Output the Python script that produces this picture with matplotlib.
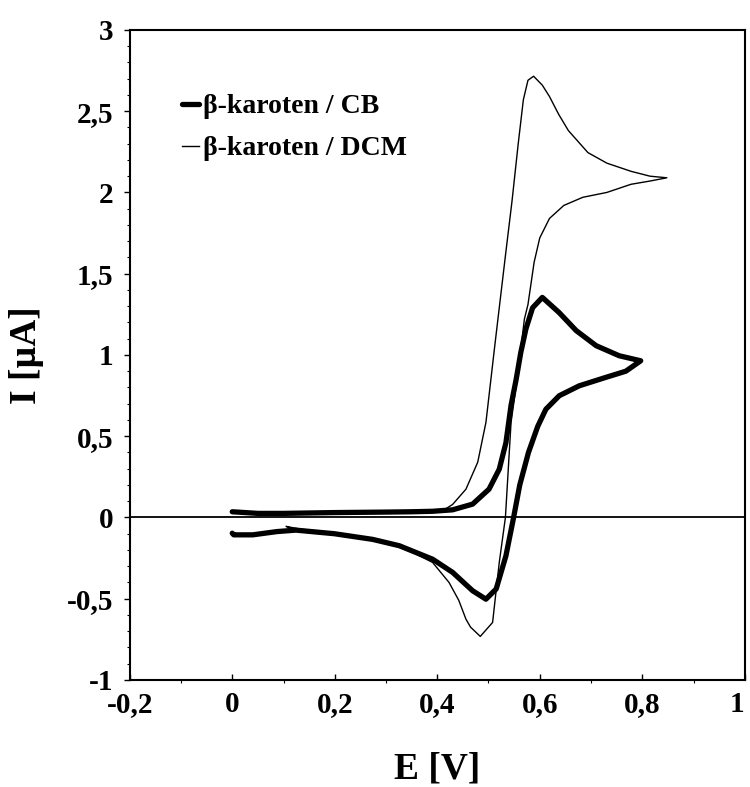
import matplotlib
matplotlib.use("Agg")
import matplotlib.pyplot as plt
from matplotlib.ticker import MultipleLocator, FuncFormatter

# beta-carotene in chlorobenzene (thick line), forward then reverse sweep
cb_E = [0.0, 0.05, 0.1, 0.2, 0.3, 0.35, 0.391, 0.43, 0.469, 0.501, 0.521, 0.534, 0.544,
        0.554, 0.563, 0.573, 0.586, 0.605, 0.638, 0.671, 0.710, 0.755, 0.797,
        0.768, 0.729, 0.677, 0.638, 0.612, 0.596, 0.578, 0.561, 0.549, 0.534, 0.515,
        0.495, 0.469, 0.43, 0.391, 0.326, 0.274, 0.199, 0.124, 0.087, 0.04, 0.003, 0.0]
cb_I = [0.035, 0.025, 0.025, 0.03, 0.033, 0.035, 0.038, 0.047, 0.082, 0.174, 0.297, 0.46, 0.69,
        0.85, 1.015, 1.16, 1.29, 1.354, 1.26, 1.15, 1.057, 0.995, 0.964,
        0.90, 0.862, 0.81, 0.749, 0.666, 0.56, 0.40, 0.2, 0.0, -0.236, -0.44,
        -0.503, -0.451, -0.338, -0.257, -0.174, -0.135, -0.10, -0.078, -0.087, -0.107, -0.107, -0.097]

# beta-carotene in dichloromethane (thin line)
dcm_E = [0.1, 0.2, 0.3, 0.4, 0.415, 0.43, 0.456, 0.479, 0.495, 0.512, 0.533, 0.546, 0.558,
         0.568, 0.577, 0.588, 0.605, 0.619, 0.637, 0.656, 0.694, 0.731, 0.778, 0.815, 0.848,
         0.815, 0.778, 0.731, 0.684, 0.647, 0.619, 0.600, 0.589, 0.577, 0.570, 0.558, 0.544,
         0.533, 0.521, 0.508, 0.484, 0.465, 0.456, 0.442, 0.423, 0.391, 0.352, 0.30, 0.2,
         0.13, 0.105, 0.11]
dcm_I = [0.03, 0.035, 0.04, 0.045, 0.05, 0.08, 0.174, 0.34, 0.585, 1.05, 1.61, 1.95, 2.3,
         2.57, 2.69, 2.715, 2.66, 2.59, 2.48, 2.38, 2.245, 2.18, 2.13, 2.10, 2.09,
         2.07, 2.05, 2.0, 1.97, 1.92, 1.84, 1.72, 1.57, 1.31, 1.22, 0.9, 0.585,
         0.0, -0.277, -0.646, -0.732, -0.675, -0.626, -0.51, -0.40, -0.277, -0.215, -0.15, -0.10,
         -0.07, -0.055, -0.06]

x_ticks = [-0.2, 0, 0.2, 0.4, 0.6, 0.8, 1.0]
y_ticks = [-1, -0.5, 0, 0.5, 1, 1.5, 2, 2.5, 3]

plt.rcParams['font.family'] = ['Liberation Serif', 'DejaVu Serif']
plt.rcParams['font.weight'] = 'bold'

fig = plt.figure(figsize=(7.5, 7.87), dpi=100)
ax = fig.add_axes([0.173, 0.136, 0.82, 0.826])

ax.plot(cb_E, cb_I, color='black', lw=3.8, solid_capstyle='round', solid_joinstyle='round',
        label='β-karoten / CB')
ax.plot(dcm_E, dcm_I, color='black', lw=1.0, label='β-karoten / DCM')
ax.axhline(0, color='black', lw=1.3)

ax.set_xlim(-0.2, 1.0)
ax.set_ylim(-1, 3)
ax.set_xticks(x_ticks)
ax.set_yticks(y_ticks)
ax.xaxis.set_minor_locator(MultipleLocator(0.1))
ax.yaxis.set_minor_locator(MultipleLocator(0.1))

def comma(v, pos):
    s = ('%.1f' % v).rstrip('0').rstrip('.')
    if s == '-0':
        s = '0'
    return s.replace('.', ',')

ax.xaxis.set_major_formatter(FuncFormatter(comma))
ax.yaxis.set_major_formatter(FuncFormatter(comma))
ax.tick_params(axis='both', which='major', labelsize=21, length=4, width=1, pad=8)
ax.tick_params(axis='both', which='minor', length=2, width=0.8)
ax.tick_params(axis='x', direction='in')
ax.tick_params(axis='y', direction='out')
for sp in ax.spines.values():
    sp.set_linewidth(1.5)

# keep the last x label inside the figure
ax.get_xticklabels()[-1].set_horizontalalignment('right')

ax.set_xlabel('E [V]', fontsize=27, fontweight='bold', labelpad=24)
ax.set_ylabel('I [µA]', fontsize=27, fontweight='bold', labelpad=16)

ax.legend(loc='upper left', bbox_to_anchor=(0.045, 0.94), frameon=False,
          handlelength=0.6, handletextpad=0.15, labelspacing=0.6,
          prop={'weight': 'bold', 'size': 20})

fig.savefig('out.png', dpi=100)
